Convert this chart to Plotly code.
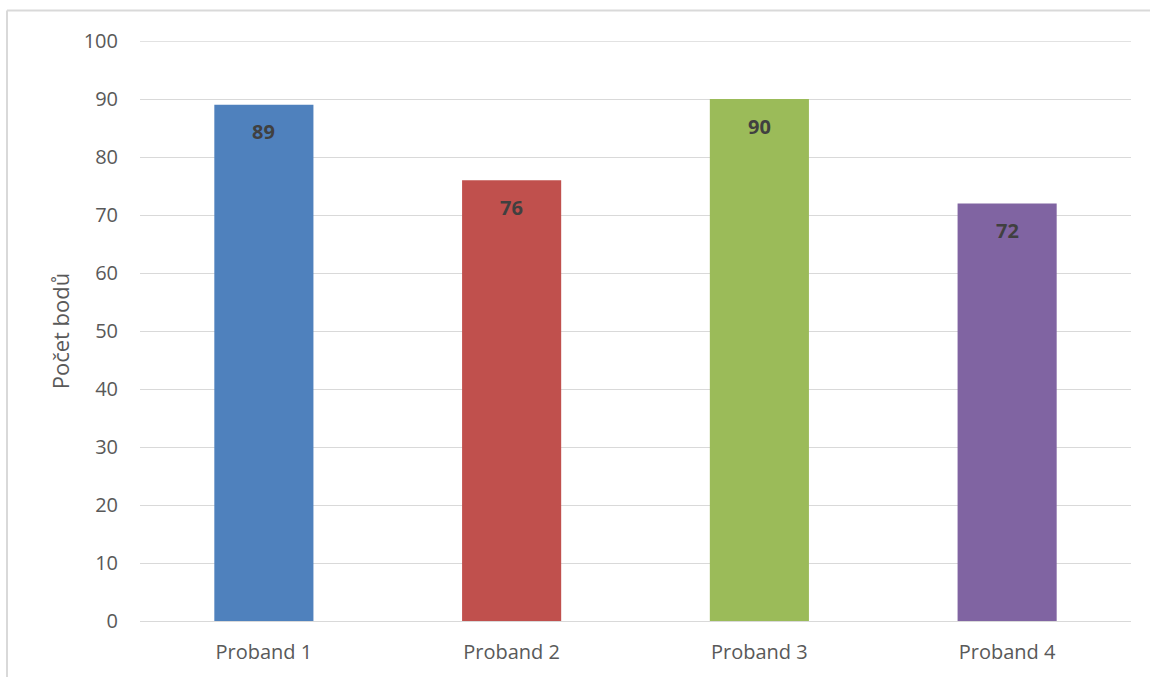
import plotly.graph_objects as go

categories = ["Proband 1", "Proband 2", "Proband 3", "Proband 4"]
scores = [89, 76, 90, 72]
bar_colors = ["#4F81BD", "#C0504D", "#9BBB59", "#8064A2"]
y_ticks = [0, 10, 20, 30, 40, 50, 60, 70, 80, 90, 100]

W, H = 1150, 677
L, R, T, B = 140, 19, 41, 56
pw, ph = W - L - R, H - T - B

fig = go.Figure()
fig.add_trace(go.Bar(
    x=categories,
    y=scores,
    marker=dict(color=bar_colors, line=dict(width=0)),
    width=0.4,
    showlegend=False,
    hoverinfo="x+y",
))

# value labels placed just under the top of each bar
for c, v in zip(categories, scores):
    fig.add_annotation(
        x=c, y=v, xref="x", yref="y",
        text=f"<b>{v}</b>", showarrow=False,
        yshift=-27, font=dict(family="Open Sans", size=20, color="#404040"),
    )

# top gridline at the end of the value range
fig.add_shape(type="line", xref="paper", yref="y", layer="below",
              x0=0, x1=1, y0=y_ticks[-1], y1=y_ticks[-1],
              line=dict(color="#d9d9d9", width=1.5))

# outer frame around the chart area
def px_x(p):
    return (p - L) / pw

def px_y(p):
    return (H - B - p) / ph

fig.add_shape(type="line", xref="paper", yref="paper",
              x0=px_x(7), x1=px_x(W + 5), y0=px_y(10.5), y1=px_y(10.5),
              line=dict(color="#d9d9d9", width=2))
fig.add_shape(type="line", xref="paper", yref="paper",
              x0=px_x(7), x1=px_x(7), y0=px_y(10.5), y1=px_y(H + 5),
              line=dict(color="#d9d9d9", width=2))

fig.update_layout(
    width=W, height=H,
    margin=dict(l=L, r=R, t=T, b=B, pad=0),
    paper_bgcolor="white", plot_bgcolor="white",
    font=dict(family="Open Sans", color="#595959", size=20),
    bargap=0.6,
)
fig.update_xaxes(
    showgrid=False, showline=True, linecolor="#d9d9d9", linewidth=1,
    ticks="", ticklabelstandoff=13, automargin=False,
    tickfont=dict(size=20, color="#595959"),
)
fig.update_yaxes(
    range=[0, 100], tickvals=y_ticks, showgrid=True, gridcolor="#d9d9d9",
    gridwidth=1, zeroline=False, showline=False, ticks="",
    ticklabelstandoff=21, automargin=False,
    tickfont=dict(size=20, color="#595959"),
    title=dict(text="Počet bodů", font=dict(size=22, color="#595959"), standoff=7),
)

fig.write_html("out.html")
